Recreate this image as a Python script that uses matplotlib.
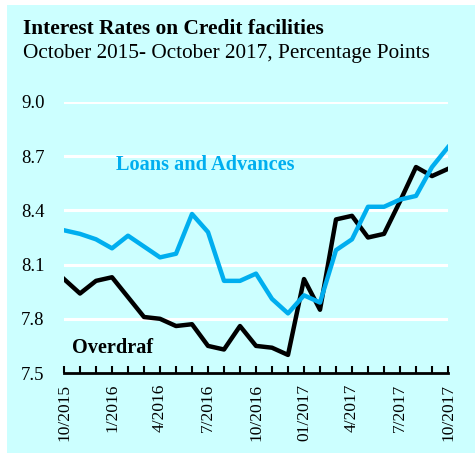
import matplotlib
matplotlib.use("Agg")
import matplotlib.pyplot as plt

# monthly observations, October 2015 - October 2017
months = ["10/2015", "11/2015", "12/2015", "1/2016", "2/2016", "3/2016", "4/2016",
          "5/2016", "6/2016", "7/2016", "8/2016", "9/2016", "10/2016", "11/2016",
          "12/2016", "01/2017", "2/2017", "3/2017", "4/2017", "5/2017", "6/2017",
          "7/2017", "8/2017", "9/2017", "10/2017"]
loans_advances = [8.29, 8.27, 8.24, 8.19, 8.26, 8.20, 8.14, 8.16, 8.38, 8.28, 8.01, 8.01,
                  8.05, 7.91, 7.83, 7.93, 7.89, 8.18, 8.24, 8.42, 8.42, 8.46, 8.48, 8.64, 8.75]
overdraft = [8.02, 7.94, 8.01, 8.03, 7.92, 7.81, 7.80, 7.76, 7.77, 7.65, 7.63, 7.76,
             7.65, 7.64, 7.60, 8.02, 7.85, 8.35, 8.37, 8.25, 8.27, 8.45, 8.64, 8.59, 8.63]
y_ticks = [7.5, 7.8, 8.1, 8.4, 8.7, 9.0]

BG = "#CCFFFF"
BLUE = "#00AEEF"
plt.rcParams["font.family"] = ["Liberation Serif", "DejaVu Serif"]

fig = plt.figure(figsize=(4.75, 4.53), dpi=100)
fig.patch.set_facecolor("white")
# cyan panel behind everything
fig.patches.append(plt.Rectangle((7 / 475, 0), 1 - 7 / 475, 1 - 5 / 453,
                                 transform=fig.transFigure, facecolor=BG,
                                 edgecolor="none", zorder=-1))

ax = fig.add_axes([64 / 475, 80 / 453, 384 / 475, 271 / 453])
ax.set_facecolor(BG)
x = list(range(len(months)))

for yv in y_ticks[1:]:
    ax.axhline(yv, color="white", linewidth=2.2, zorder=1)

ax.plot(x, overdraft, color="black", linewidth=3.2, zorder=3)
ax.plot(x, loans_advances, color=BLUE, linewidth=3.2, zorder=4)

ax.set_xlim(0, len(months) - 1)
ax.set_ylim(7.5, 9.0)
ax.set_yticks(y_ticks)
ax.set_yticklabels([f"{v:.1f}" for v in y_ticks], fontsize=13.5)
ax.tick_params(axis="y", length=0, pad=14)

ax.set_xticks(x[::3])
ax.set_xticklabels(months[::3], rotation=90, fontsize=12.5)
ax.set_xticks(x, minor=True)
ax.tick_params(axis="x", which="both", direction="in", length=5, width=1.5, pad=8)

for side in ["left", "right", "top"]:
    ax.spines[side].set_visible(False)
ax.spines["bottom"].set_linewidth(2)
ax.spines["bottom"].set_zorder(5)

ax.text(3.25, 8.65, "Loans and Advances", color=BLUE, fontsize=14.6,
        fontweight="bold", va="center", ha="left")
ax.text(0.5, 7.64, "Overdraf", color="black", fontsize=14.6,
        fontweight="bold", va="center", ha="left")

fig.text(23 / 475, 1 - 34 / 453, "Interest Rates on Credit facilities",
         fontsize=15.4, fontweight="bold", va="baseline", ha="left")
fig.text(23 / 475, 1 - 58 / 453, "October 2015- October 2017, Percentage Points",
         fontsize=15.3, va="baseline", ha="left")

fig.savefig("out.png", dpi=100, facecolor=fig.get_facecolor())
